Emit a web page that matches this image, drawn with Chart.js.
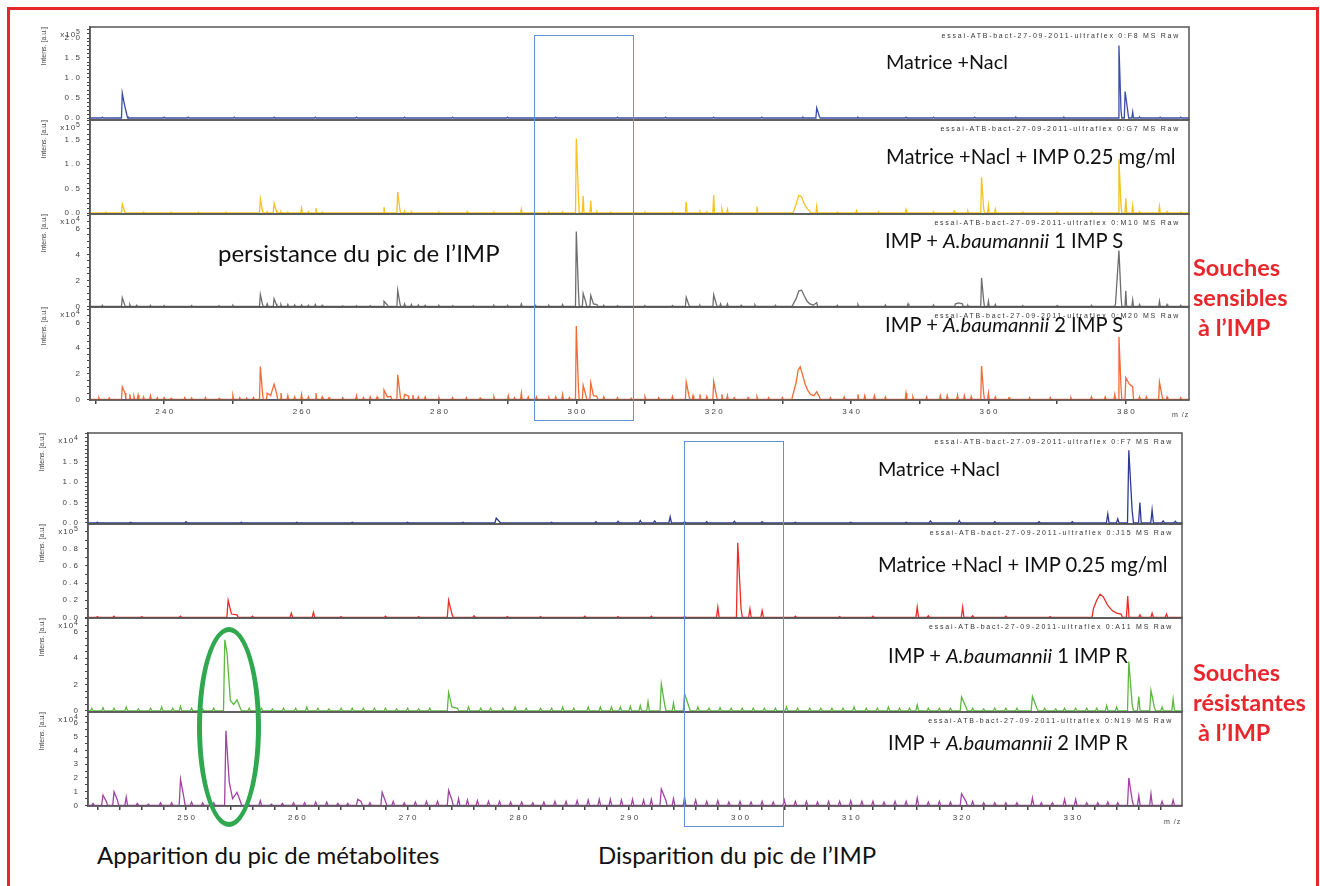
<!DOCTYPE html>
<html><head><meta charset="utf-8">
<script src="https://cdn.jsdelivr.net/npm/chart.js@4.4.1/dist/chart.umd.min.js"></script>
<style>
html,body{margin:0;padding:0;background:#fff;}
body{width:1320px;height:886px;position:relative;overflow:hidden;font-family:Lato,'Open Sans',sans-serif;}
.t{position:absolute;white-space:nowrap;line-height:1;color:#111;}
.s{position:absolute;white-space:nowrap;line-height:1;font-family:'Liberation Sans',Arial,sans-serif;color:#333;}
.frame{position:absolute;left:7px;top:7px;width:1306px;height:920px;border:3px solid #e8262c;}
.box{position:absolute;border:1.6px solid #5f92d8;}
.ell{position:absolute;border:5px solid #2fa84f;border-radius:50%;}
</style></head><body>
<div class="frame"></div>
<script>
// ---------------- DATA ----------------
// x-axis tick labels (m/z)
const topXLabels = [240, 260, 280, 300, 320, 340, 360, 380];
const botXLabels = [250, 260, 270, 280, 290, 300, 310, 320, 330];
// y-axis tick labels per spectrum
const t1YLabels = [0, 0.5, 1, 1.5, 2];
const t2YLabels = [0, 0.5, 1, 1.5];
const t3YLabels = [0, 2, 4, 6];
const t4YLabels = [0, 2, 4, 6];
const b1YLabels = [0, 0.5, 1, 1.5];
const b2YLabels = [0, 0.2, 0.4, 0.6, 0.8];
const b3YLabels = [0, 2, 4, 6];
const b4YLabels = [0, 1, 2, 3, 4, 5, 6];

// Top block: sensitive strains (m/z, intensity)
const t1Mz  = [231.0, 233.9, 234.2, 234.6, 240, 243.5, 250.2, 256, 262, 268, 275, 282, 290, 297, 306, 313, 320, 327, 333.0, 335.0, 335.4, 341, 348, 352, 358, 364, 371, 379.0, 379.3, 379.9, 380.3, 381.0, 382.0, 385, 388];
const t1Int = [0.02, 0.62, 0.35, 0.05, 0.02, 0.02, 0.02, 0.02, 0.02, 0.02, 0.02, 0.02, 0.02, 0.02, 0.02, 0.02, 0.02, 0.02, 0.02, 0.25, 0.03, 0.02, 0.02, 0.02, 0.02, 0.02, 0.02, 1.81, 0.2, 0.66, 0.15, 0.15, 0.03, 0.02, 0.02];

const t2Mz  = [231.5, 233.9, 234.2, 237, 241, 245, 249, 254.0, 254.3, 255.0, 256.0, 256.3, 257, 258, 260.0, 261, 262.1, 263, 272.0, 274.0, 274.3, 275, 276, 280, 284.1, 288, 292.0, 296, 298.0, 300.0, 300.3, 301.0, 302.1, 303, 305, 310, 314, 316.0, 318, 319.0, 320.0, 321.2, 322.0, 326.3, 331.6, 332.0, 332.4, 332.8, 333.2, 333.6, 334.0, 335.0, 338, 340.8, 344, 348, 352, 355, 357, 359.0, 359.3, 360.0, 361.0, 365, 370, 375, 379.0, 379.3, 380.0, 381.0, 382, 384.9, 386, 388];
const t2Int = [0.02, 0.18, 0.05, 0.02, 0.02, 0.02, 0.02, 0.29, 0.05, 0.03, 0.2, 0.06, 0.03, 0.02, 0.1, 0.03, 0.1, 0.02, 0.12, 0.43, 0.08, 0.04, 0.03, 0.02, 0.03, 0.02, 0.08, 0.02, 0.03, 1.52, 0.4, 0.35, 0.25, 0.03, 0.02, 0.02, 0.02, 0.23, 0.03, 0.03, 0.37, 0.08, 0.08, 0.13, 0.02, 0.18, 0.36, 0.33, 0.18, 0.09, 0.04, 0.14, 0.02, 0.05, 0.03, 0.07, 0.03, 0.04, 0.04, 0.73, 0.1, 0.15, 0.08, 0.02, 0.02, 0.02, 1.1, 0.15, 0.3, 0.15, 0.03, 0.14, 0.03, 0.02];

const t3Mz  = [231, 233.9, 234.2, 235, 236, 238, 240, 244, 248, 250, 254.0, 254.3, 255, 256.0, 256.3, 257, 258, 259, 260, 261, 262, 263, 266, 268, 270, 272.0, 272.5, 274.0, 274.3, 275, 276, 277, 278, 280, 282, 285, 288, 290, 292.0, 294, 296, 298.0, 300.0, 300.3, 301.0, 301.4, 302.1, 302.5, 303, 304, 306, 310, 314, 316.0, 316.4, 318, 320.0, 320.4, 321, 322, 324, 326, 329, 331.5, 332.0, 332.4, 332.8, 333.2, 333.6, 334.0, 334.5, 335.0, 338, 341, 345, 348.3, 352, 355.2, 355.7, 356.2, 357, 359.0, 359.3, 360.0, 361, 365, 370, 375, 378.5, 379.0, 379.3, 380.0, 381.0, 382, 384.9, 386, 388];
const t3Int = [0.1, 0.67, 0.2, 0.15, 0.1, 0.1, 0.08, 0.08, 0.06, 0.08, 0.92, 0.2, 0.2, 0.6, 0.2, 0.15, 0.15, 0.12, 0.12, 0.1, 0.15, 0.1, 0.05, 0.06, 0.06, 0.4, 0.1, 1.25, 0.3, 0.2, 0.15, 0.12, 0.1, 0.08, 0.06, 0.06, 0.08, 0.1, 0.2, 0.1, 0.08, 0.15, 5.75, 1.3, 1.0, 0.3, 0.85, 0.2, 0.15, 0.1, 0.06, 0.06, 0.08, 0.7, 0.1, 0.1, 0.9, 0.15, 0.2, 0.2, 0.1, 0.12, 0.1, 0.1, 0.6, 1.2, 1.25, 0.8, 0.4, 0.2, 0.1, 0.3, 0.1, 0.15, 0.12, 0.2, 0.12, 0.2, 0.28, 0.2, 0.1, 2.2, 0.5, 0.4, 0.15, 0.08, 0.08, 0.1, 0.2, 4.3, 0.8, 1.2, 0.5, 0.15, 0.4, 0.15, 0.1];

const t4Mz  = [230.5, 232, 233.9, 234.3, 235, 235.6, 236.2, 237, 238, 239, 240, 241, 243, 244, 246, 248, 250.0, 251, 252, 253, 254.0, 254.3, 255.0, 255.5, 256.0, 256.4, 257, 258, 259, 260.0, 261, 262.1, 263, 264, 266, 268.0, 269, 270, 271, 272.0, 272.5, 273, 274.0, 274.3, 275.0, 275.5, 276.2, 277, 278, 280, 282, 284, 286, 288, 290.1, 291, 292.0, 293, 294.2, 296, 297, 298.0, 299, 300.0, 300.3, 301.0, 301.4, 302.1, 302.5, 303, 304, 306, 308, 310, 312, 314, 316.0, 316.4, 317, 318, 319, 320.0, 320.4, 321.2, 322, 323, 325, 326.3, 328, 330, 331.5, 332.0, 332.3, 332.6, 332.9, 333.3, 333.7, 334.1, 334.6, 335.0, 335.4, 337, 339, 341.0, 342, 343.4, 345, 348.0, 349, 351, 353, 354, 355.5, 356.5, 357.5, 359.0, 359.3, 360.0, 361, 363, 366, 369, 372, 375, 377, 378.4, 379.0, 379.3, 380.0, 380.5, 381.0, 382, 383, 384.9, 385.3, 386, 388];
const t4Int = [0.15, 0.12, 0.98, 0.5, 0.4, 0.25, 0.35, 0.2, 0.3, 0.15, 0.15, 0.1, 0.15, 0.12, 0.15, 0.1, 0.3, 0.15, 0.12, 0.15, 2.56, 0.6, 0.5, 0.3, 1.2, 0.4, 0.5, 0.3, 0.2, 0.4, 0.2, 0.5, 0.2, 0.15, 0.15, 0.3, 0.15, 0.2, 0.2, 0.75, 0.2, 0.25, 1.92, 0.6, 0.4, 0.3, 0.35, 0.2, 0.2, 0.15, 0.15, 0.15, 0.12, 0.2, 0.3, 0.15, 0.5, 0.2, 0.2, 0.15, 0.2, 0.4, 0.15, 5.72, 1.0, 1.1, 0.3, 1.3, 0.3, 0.25, 0.2, 0.15, 0.1, 0.2, 0.15, 0.25, 1.36, 0.3, 0.3, 0.4, 0.25, 1.4, 0.3, 0.4, 0.3, 0.15, 0.15, 0.2, 0.15, 0.15, 0.3, 1.3, 2.3, 2.55, 2.0, 1.2, 0.7, 0.4, 0.3, 0.6, 0.2, 0.15, 0.2, 0.4, 0.3, 0.3, 0.2, 0.5, 0.2, 0.2, 0.3, 0.3, 0.35, 0.3, 0.25, 2.6, 0.5, 0.5, 0.2, 0.15, 0.15, 0.15, 0.15, 0.2, 0.2, 0.4, 4.87, 1.0, 1.7, 1.2, 1.0, 0.2, 0.2, 1.35, 0.2, 0.2, 0.15];

// Bottom block: resistant strains
const b1Mz  = [242, 245, 250, 255, 260, 265, 270, 275, 278.0, 278.3, 283, 287, 289, 291.0, 292.3, 293.7, 295, 297, 299.5, 302, 305, 310, 315, 317.2, 319.8, 323, 327, 330, 333.2, 334.1, 335.1, 335.4, 336.1, 337.2, 338.2, 339.3];
const b1Int = [0.02, 0.02, 0.03, 0.02, 0.02, 0.02, 0.02, 0.02, 0.12, 0.03, 0.02, 0.03, 0.04, 0.06, 0.05, 0.15, 0.03, 0.03, 0.04, 0.03, 0.02, 0.02, 0.02, 0.05, 0.06, 0.03, 0.03, 0.03, 0.22, 0.1, 1.78, 0.3, 0.5, 0.32, 0.05, 0.04];

const b2Mz  = [242, 243.5, 246, 249.5, 253.8, 254.1, 254.6, 256, 259.5, 261.5, 264, 268, 271, 273.7, 274.0, 276, 279, 282, 286, 289, 292, 295, 298.0, 299.8, 300.1, 300.9, 302.0, 305, 309, 312, 316.0, 317, 320.1, 321, 324, 328, 331.9, 332.2, 332.5, 332.8, 333.2, 333.6, 334.0, 334.4, 335.0, 336.1, 337.2, 338.5];
const b2Int = [0.01, 0.015, 0.01, 0.015, 0.2, 0.04, 0.03, 0.015, 0.05, 0.06, 0.01, 0.015, 0.01, 0.2, 0.04, 0.02, 0.01, 0.01, 0.015, 0.01, 0.015, 0.01, 0.12, 0.87, 0.1, 0.1, 0.08, 0.015, 0.01, 0.015, 0.12, 0.02, 0.12, 0.02, 0.015, 0.01, 0.1, 0.2, 0.27, 0.24, 0.14, 0.08, 0.05, 0.04, 0.25, 0.03, 0.05, 0.04];

const b3Mz  = [241.5, 242.5, 243.5, 244.6, 245.7, 246.8, 247.8, 248.8, 249.5, 250.5, 251.5, 252.5, 253.5, 253.7, 254.0, 254.3, 254.6, 254.9, 255.7, 256.8, 257.8, 258.8, 259.9, 260.9, 261.9, 262.9, 264.0, 265.0, 266.0, 267.0, 268.0, 269.0, 270.0, 271.0, 272.0, 273.7, 274.0, 274.5, 275.5, 276.6, 277.5, 278.6, 279.7, 280.7, 282, 283, 284, 285, 286.3, 287.4, 288.4, 289.2, 290.1, 291.0, 291.7, 292.9, 293.2, 294.0, 295.0, 295.4, 296.2, 297.2, 298.2, 299.2, 300.2, 301.2, 302.2, 303.2, 304.2, 305.2, 306.3, 307.3, 308.3, 309.3, 310.3, 311.4, 312.4, 313.4, 314.4, 315.3, 316.0, 317.0, 318.0, 319.0, 320.0, 320.4, 321.0, 322, 323, 324, 325, 326.4, 326.8, 327.5, 328.5, 329.3, 330.3, 331.3, 332.2, 333.1, 334.0, 335.1, 335.4, 336.0, 337.1, 337.4, 338.1, 339.1];
const b3Int = [0.2, 0.25, 0.2, 0.3, 0.15, 0.2, 0.3, 0.2, 0.35, 0.2, 0.15, 0.2, 5.4, 4.4, 0.8, 0.5, 0.85, 0.2, 0.2, 0.2, 0.15, 0.2, 0.2, 0.3, 0.2, 0.15, 0.2, 0.2, 0.2, 0.2, 0.2, 0.15, 0.2, 0.15, 0.2, 1.4, 0.3, 0.2, 0.3, 0.2, 0.2, 0.2, 0.3, 0.2, 0.2, 0.2, 0.3, 0.2, 0.3, 0.3, 0.3, 0.3, 0.35, 0.4, 0.7, 2.05, 0.5, 0.6, 1.3, 0.3, 0.3, 0.2, 0.25, 0.2, 0.2, 0.2, 0.2, 0.2, 0.3, 0.2, 0.2, 0.2, 0.2, 0.2, 0.3, 0.2, 0.2, 0.3, 0.2, 0.2, 0.45, 0.2, 0.2, 0.2, 1.05, 0.3, 0.2, 0.15, 0.2, 0.2, 0.2, 1.1, 0.2, 0.2, 0.15, 0.2, 0.2, 0.2, 0.2, 0.4, 0.3, 3.75, 0.5, 1.1, 1.55, 0.3, 0.3, 0.9];

const b4Mz  = [241.6, 242.5, 242.8, 243.5, 243.8, 244.6, 245.6, 246.6, 247.7, 248.7, 249.5, 249.8, 250.5, 251.5, 252.5, 253.6, 253.9, 254.2, 254.6, 254.9, 255.6, 256.7, 257.7, 258.7, 259.7, 260.7, 261.7, 262.7, 263.7, 264.6, 265.5, 265.8, 266.6, 267.7, 268.0, 268.7, 269.7, 270.7, 271.7, 272.7, 273.7, 274.0, 274.6, 275.4, 276.3, 277.3, 278.3, 279.3, 280.3, 281.3, 282.3, 283.3, 284.3, 285.3, 286.3, 287.3, 288.3, 289.3, 290.3, 291.3, 292.0, 292.9, 293.3, 294.0, 295.0, 296.0, 297.0, 298.0, 299.0, 300.0, 301.0, 302.0, 303.0, 304.0, 305.0, 306.0, 307.0, 308.0, 309.0, 310.0, 311.0, 312.0, 313.0, 314.0, 315.0, 316.0, 317.0, 318.0, 319.0, 320.0, 320.4, 321.0, 322.0, 323.0, 324.0, 325.0, 326.4, 327.2, 328.2, 329.3, 330.3, 331.3, 332.3, 333.2, 334.1, 335.1, 335.4, 336.0, 337.1, 338.1, 339.1];
const b4Int = [0.15, 0.76, 0.3, 1.0, 0.4, 0.6, 0.15, 0.1, 0.2, 0.2, 1.9, 0.6, 0.25, 0.2, 0.2, 5.44, 1.7, 0.5, 0.95, 0.3, 0.15, 0.35, 0.1, 0.15, 0.2, 0.2, 0.25, 0.25, 0.15, 0.15, 0.45, 0.3, 0.2, 0.95, 0.3, 0.3, 0.2, 0.25, 0.3, 0.3, 1.1, 0.4, 0.5, 0.4, 0.35, 0.3, 0.3, 0.25, 0.25, 0.2, 0.25, 0.3, 0.3, 0.35, 0.4, 0.45, 0.45, 0.4, 0.45, 0.4, 0.45, 1.2, 0.4, 0.5, 0.6, 0.4, 0.3, 0.35, 0.25, 0.3, 0.25, 0.3, 0.25, 0.4, 0.3, 0.3, 0.25, 0.3, 0.3, 0.35, 0.3, 0.3, 0.25, 0.3, 0.3, 0.55, 0.25, 0.3, 0.25, 0.85, 0.3, 0.3, 0.2, 0.2, 0.2, 0.2, 0.55, 0.2, 0.2, 0.45, 0.45, 0.2, 0.2, 0.25, 0.2, 2.0, 0.4, 0.7, 0.85, 0.3, 0.4];

// ---------------- RENDERING ----------------
const Y_W = 60, PAD_T = 12;
const spaced = s => String(s).split('').join(' ');

function profile(mz, it, lo, hi) {
  const HW = 0.12, GAP = 0.55;
  const pts = [{x: lo, y: 0}, {x: mz[0] - HW, y: 0}];
  for (let i = 0; i < mz.length; i++) {
    if (i > 0 && mz[i] - mz[i - 1] > GAP) {
      pts.push({x: mz[i - 1] + HW, y: 0});
      pts.push({x: mz[i] - HW, y: 0});
    }
    pts.push({x: mz[i], y: it[i]});
  }
  pts.push({x: mz[mz.length - 1] + HW, y: 0});
  pts.push({x: hi, y: 0});
  return pts;
}

const framePlugin = {
  id: 'frame',
  afterDraw(chart) {
    const a = chart.chartArea, ctx = chart.ctx;
    ctx.save();
    ctx.strokeStyle = '#555';
    ctx.lineWidth = 1.5;
    ctx.strokeRect(a.left, a.top, a.right - a.left, a.bottom - a.top);
    ctx.restore();
  }
};

const tickFont = {family: "'Liberation Sans', Arial, sans-serif", size: 8};

function subplot(cfg) {
  const showX = !!cfg.xLabels;
  const padB = showX ? 4 : 12;
  const xH = showX ? 26 : 0;
  const H = cfg.h + PAD_T + padB + xH;
  const c = document.createElement('canvas');
  c.width = 1320; c.height = H;
  c.style.cssText = 'position:absolute;left:0;top:' + (cfg.top - PAD_T) + 'px;width:1320px;height:' + H + 'px;';
  document.body.appendChild(c);
  const yTicks = [];
  for (let k = 0; k * cfg.minor <= cfg.yMax + 1e-9; k++) yTicks.push(+(k * cfg.minor).toFixed(4));
  const xTicks = [];
  if (showX) for (let k = Math.ceil(cfg.xMin / cfg.xMinor); k * cfg.xMinor <= cfg.xMax; k++) xTicks.push(k * cfg.xMinor);
  new Chart(c, {
    type: 'line',
    data: {datasets: [{
      data: profile(cfg.mz, cfg.it, cfg.xMin, cfg.xMax),
      borderColor: cfg.color, borderWidth: 1.3, pointRadius: 0, fill: false, tension: 0
    }]},
    options: {
      responsive: false, animation: false, events: [],
      layout: {padding: {left: cfg.left - Y_W, right: 1320 - cfg.right, top: PAD_T, bottom: padB}},
      plugins: {legend: {display: false}, tooltip: {enabled: false}},
      scales: {
        x: {
          type: 'linear', min: cfg.xMin, max: cfg.xMax, display: showX,
          afterBuildTicks: s => { s.ticks = xTicks.map(v => ({value: v})); },
          afterFit: s => { s.height = xH; },
          grid: {drawOnChartArea: false, drawTicks: true, tickLength: 4, color: '#444', lineWidth: 1.5},
          border: {display: true, color: '#555', width: 1.5},
          ticks: {autoSkip: false, maxRotation: 0, padding: 3, color: '#444', font: tickFont,
            callback: v => (cfg.xLabels && cfg.xLabels.includes(v)) ? spaced(v) : ''}
        },
        y: {
          type: 'linear', min: cfg.yMin, max: cfg.yMax,
          afterBuildTicks: s => { s.ticks = yTicks.map(v => ({value: v})); },
          afterFit: s => { s.width = Y_W; },
          grid: {drawOnChartArea: false, drawTicks: true, tickLength: 3, color: '#444'},
          border: {display: true, color: '#555', width: 1.5},
          ticks: {autoSkip: false, padding: 7, color: '#444', font: tickFont,
            callback: v => {
              const m = cfg.yLabels.find(l => Math.abs(l - v) < 1e-6);
              return m === undefined ? '' : spaced(m.toFixed(cfg.dec));
            }},
          title: {display: true, text: 'Intens. [a.u.]', align: 'end', color: '#444',
            font: {family: "'Liberation Sans', Arial, sans-serif", size: 7}, padding: {top: 10, bottom: 0}}
        }
      }
    },
    plugins: [framePlugin]
  });
  // exponent label
  const e = document.createElement('div');
  e.className = 's';
  e.style.cssText = 'right:' + (1320 - cfg.left + 9) + 'px;top:' + (cfg.top + 1) + 'px;font-size:8px;letter-spacing:1px;color:#444;';
  e.innerHTML = 'x10<sup style="font-size:7px;vertical-align:3px">' + cfg.exp + '</sup>';
  document.body.appendChild(e);
  // spectrum file label
  const f = document.createElement('div');
  f.className = 's';
  f.style.cssText = 'right:' + (1320 - cfg.right + 9) + 'px;top:' + (cfg.top + 5) + 'px;font-size:7px;letter-spacing:1.75px;color:#333;';
  f.textContent = 'essai-ATB-bact-27-09-2011-ultraflex 0:' + cfg.file + ' MS Raw';
  document.body.appendChild(f);
}

const TOP = {left: 90, right: 1189, xMin: 229.2, xMax: 389.2, xMinor: 10};
const BOT = {left: 88, right: 1182, xMin: 241.15, xMax: 339.9, xMinor: 2};

subplot(Object.assign({}, TOP, {top: 27,  h: 93, yMin: -0.05, yMax: 2.275, minor: 0.1, yLabels: t1YLabels, dec: 1, exp: 5, mz: t1Mz, it: t1Int, color: '#3b4ea6', file: 'F8'}));
subplot(Object.assign({}, TOP, {top: 120, h: 94, yMin: -0.02, yMax: 1.90,  minor: 0.1, yLabels: t2YLabels, dec: 1, exp: 5, mz: t2Mz, it: t2Int, color: '#f7c21e', file: 'G7'}));
subplot(Object.assign({}, TOP, {top: 214, h: 93, yMin: -0.04, yMax: 7.1,   minor: 0.5, yLabels: t3YLabels, dec: 0, exp: 4, mz: t3Mz, it: t3Int, color: '#6e6e6e', file: 'M10'}));
subplot(Object.assign({}, TOP, {top: 307, h: 93, yMin: -0.04, yMax: 7.2,   minor: 0.5, yLabels: t4YLabels, dec: 0, exp: 4, mz: t4Mz, it: t4Int, color: '#f26a35', file: 'M20', xLabels: topXLabels}));

subplot(Object.assign({}, BOT, {top: 433, h: 91, yMin: -0.025, yMax: 2.2,   minor: 0.1, yLabels: b1YLabels, dec: 1, exp: 4, mz: b1Mz, it: b1Int, color: '#2e3a94', file: 'F7'}));
subplot(Object.assign({}, BOT, {top: 524, h: 94, yMin: -0.006, yMax: 1.087, minor: 0.1, yLabels: b2YLabels, dec: 1, exp: 5, mz: b2Mz, it: b2Int, color: '#ee2b25', file: 'J15'}));
subplot(Object.assign({}, BOT, {top: 618, h: 94, yMin: -0.08, yMax: 7.06,   minor: 0.5, yLabels: b3YLabels, dec: 0, exp: 4, mz: b3Mz, it: b3Int, color: '#5cb83f', file: 'A11'}));
subplot(Object.assign({}, BOT, {top: 712, h: 94, yMin: -0.04, yMax: 6.8,    minor: 0.5, yLabels: b4YLabels, dec: 0, exp: 4, mz: b4Mz, it: b4Int, color: '#a143a3', file: 'N19', xLabels: botXLabels}));

// ---------------- ANNOTATIONS ----------------
function addText(html, x, baseline, fs, style) {
  const d = document.createElement('div');
  d.className = 't';
  d.style.cssText = 'left:' + x + 'px;top:' + (baseline - 0.887 * fs).toFixed(1) + 'px;font-size:' + fs + 'px;' + (style || '');
  d.innerHTML = html;
  document.body.appendChild(d);
}
function addDiv(cls, x, y, w, h) {
  const d = document.createElement('div');
  d.className = cls;
  d.style.left = x + 'px'; d.style.top = y + 'px'; d.style.width = w + 'px'; d.style.height = h + 'px';
  document.body.appendChild(d);
}
addDiv('box', 534, 35, 98, 384);
addDiv('box', 684, 441, 98, 384);
addDiv('ell', 197, 627, 54, 190);

const FS = 20.2;
addText('Matrice +Nacl', 886, 70, 19.8);
addText('Matrice +Nacl + IMP 0.25 mg/ml', 886, 164, FS);
addText('persistance du pic de l\u2019IMP', 218, 262, 24);
addText('IMP + <i>A.baumannii</i> 1 IMP S', 885, 248, FS);
addText('IMP + <i>A.baumannii</i> 2 IMP S', 885, 332, FS);
addText('Matrice +Nacl', 878, 477, 19.8);
addText('Matrice +Nacl + IMP 0.25 mg/ml', 878, 572, FS);
addText('IMP + <i>A.baumannii</i> 1 IMP R', 888, 663, FS);
addText('IMP + <i>A.baumannii</i> 2 IMP R', 888, 750, FS);
addText('Apparition du pic de m\u00e9tabolites', 97, 864, 24);
addText('Disparition du pic de l\u2019IMP', 598, 864, 24);

const RED = 'color:#e8262c;font-weight:700;';
addText('Souches', 1193, 277, 23.5, RED);
addText('sensibles', 1193, 307, 23.5, RED);
addText('\u00e0 l\u2019IMP', 1198, 337, 23.5, RED);
addText('Souches', 1193, 682, 23.5, RED);
addText('r\u00e9sistantes', 1193, 712, 23.5, RED);
addText('\u00e0 l\u2019IMP', 1198, 742, 23.5, RED);

const mz1 = document.createElement('div');
mz1.className = 's'; mz1.style.cssText = 'left:1172px;top:411px;font-size:7px;letter-spacing:1px;color:#444;';
mz1.textContent = 'm /z'; document.body.appendChild(mz1);
const mz2 = document.createElement('div');
mz2.className = 's'; mz2.style.cssText = 'left:1164px;top:818px;font-size:7px;letter-spacing:1px;color:#444;';
mz2.textContent = 'm /z'; document.body.appendChild(mz2);
</script>
</body></html>
